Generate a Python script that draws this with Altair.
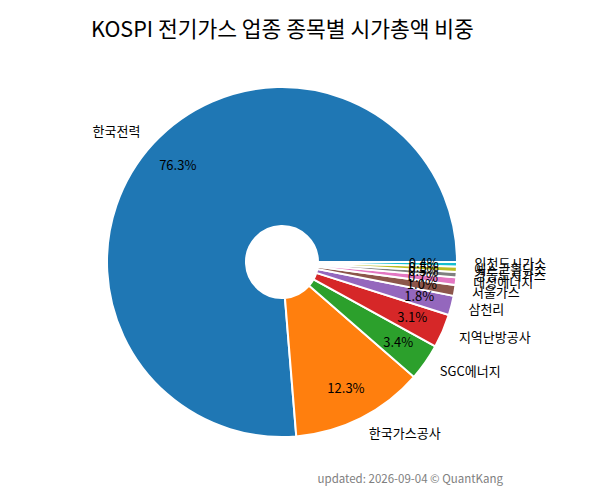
import altair as alt
import pandas as pd

# 종목별 시가총액 비중 (%)
names = ['한국전력', '한국가스공사', 'SGC에너지', '지역난방공사', '삼천리',
         '서울가스', '대성에너지', '경동도시가스', '예스코홀딩스', '인천도시가스']
shares = [76.3, 12.3, 3.4, 3.1, 1.8, 1.0, 0.7, 0.5, 0.5, 0.4]
colors = ['#1f77b4', '#ff7f0e', '#2ca02c', '#d62728', '#9467bd',
          '#8c564b', '#e377c2', '#7f7f7f', '#bcbd22', '#17becf']

FONT = 'Noto Sans CJK KR'
CX, CY = 274, 210   # pie centre inside the view
R = 175

df = pd.DataFrame({'name': names, 'share': shares, 'order': range(len(names))})
df['pct'] = df['share'].map(lambda v: f'{v:.1f}%')
df['side'] = ['left'] + ['right'] * (len(names) - 1)

# matplotlib style: start at 3 o'clock, go counter-clockwise
theta_scale = alt.Scale(range=[2.5 * 3.141592653589793, 0.5 * 3.141592653589793])

base = alt.Chart(df).encode(
    theta=alt.Theta('share:Q', stack=True, scale=theta_scale),
    order=alt.Order('order:Q'),
    x=alt.value(CX),
    y=alt.value(CY),
)

pie = base.mark_arc(radius=R, innerRadius=36, stroke='white', strokeWidth=2).encode(
    color=alt.Color('name:N', sort=names, scale=alt.Scale(domain=names, range=colors), legend=None)
)

pct = base.mark_text(radius=R * 0.81, font=FONT, fontSize=13, color='black').encode(
    text='pct:N'
)

lab_right = base.mark_text(radius=R * 1.1, font=FONT, fontSize=13, align='left',
                           baseline='middle', color='black').encode(
    text='name:N',
    opacity=alt.condition(alt.datum.side == 'right', alt.value(1), alt.value(0)),
)
lab_left = base.mark_text(radius=R * 1.1, font=FONT, fontSize=13, align='right',
                          baseline='middle', color='black').encode(
    text='name:N',
    opacity=alt.condition(alt.datum.side == 'left', alt.value(1), alt.value(0)),
)

footer = alt.Chart(pd.DataFrame({'t': ['updated: 2026-09-04 © QuantKang']})).mark_text(
    font=FONT, fontSize=11.5, color='#808080', align='right', baseline='middle'
).encode(text='t:N', x=alt.value(495), y=alt.value(428))

chart = (pie + pct + lab_right + lab_left + footer).properties(
    width=568, height=440,
    autosize='none',
    padding={'top': 44, 'left': 0, 'right': 0, 'bottom': 0},
    title=alt.TitleParams('KOSPI 전기가스 업종 종목별 시가총액 비중', font=FONT, fontSize=21.5,
                          fontWeight='normal', anchor='start', dx=83, offset=11, color='black'),
).configure_view(stroke=None)

chart.save('out.html', embed_options={'renderer': 'svg', 'actions': False})
